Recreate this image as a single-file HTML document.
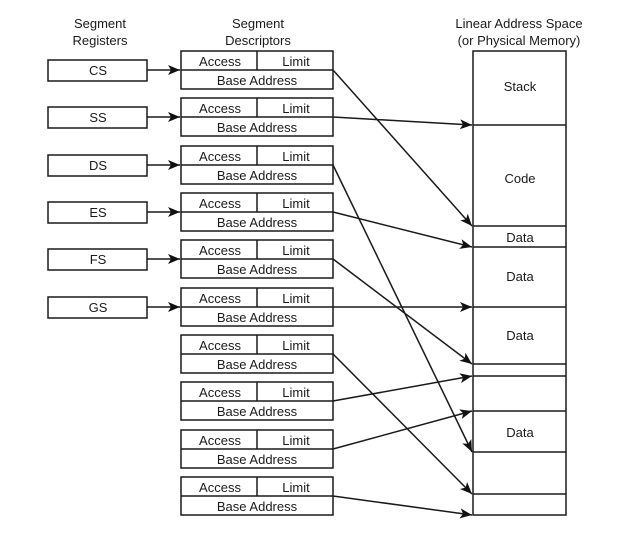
<!DOCTYPE html>
<html><head><meta charset="utf-8"><style>
html,body{margin:0;padding:0;background:#fff;}
svg{display:block;}
text{font-family:"Liberation Sans",Arial,sans-serif;font-size:13px;fill:#1a1a1a;text-anchor:middle;}
</style></head><body>
<svg width="631" height="533" viewBox="0 0 631 533" xmlns="http://www.w3.org/2000/svg">
<defs>
<marker id="a" viewBox="0 0 12 10" refX="12" refY="5" markerWidth="13" markerHeight="10" markerUnits="userSpaceOnUse" orient="auto">
<path d="M0,0 L12,5 L0,10 L3,5 z" fill="#111"/>
</marker>
</defs>
<g stroke="#1a1a1a" stroke-width="1.5" fill="none">
<text x="100" y="28" stroke="none">Segment</text>
<text x="100" y="45" stroke="none">Registers</text>
<text x="258" y="28" stroke="none">Segment</text>
<text x="258" y="45" stroke="none">Descriptors</text>
<text x="519" y="28" stroke="none">Linear Address Space</text>
<text x="519" y="45" stroke="none">(or Physical Memory)</text>

<rect x="473" y="51" width="93" height="464"/>
<line x1="473" y1="125" x2="566" y2="125"/>
<line x1="473" y1="226" x2="566" y2="226"/>
<line x1="473" y1="247" x2="566" y2="247"/>
<line x1="473" y1="307" x2="566" y2="307"/>
<line x1="473" y1="364" x2="566" y2="364"/>
<line x1="473" y1="376" x2="566" y2="376"/>
<line x1="473" y1="411" x2="566" y2="411"/>
<line x1="473" y1="452" x2="566" y2="452"/>
<line x1="473" y1="494" x2="566" y2="494"/>
<g stroke="none">
<text x="520" y="91">Stack</text>
<text x="520" y="183">Code</text>
<text x="520" y="242">Data</text>
<text x="520" y="281">Data</text>
<text x="520" y="340">Data</text>
<text x="520" y="437">Data</text>
</g>

<rect x="48" y="60" width="99" height="21"/><text x="98" y="75" stroke="none">CS</text>
<rect x="48" y="107" width="99" height="21"/><text x="98" y="122" stroke="none">SS</text>
<rect x="48" y="155" width="99" height="21"/><text x="98" y="170" stroke="none">DS</text>
<rect x="48" y="202" width="99" height="21"/><text x="98" y="217" stroke="none">ES</text>
<rect x="48" y="249" width="99" height="21"/><text x="98" y="264" stroke="none">FS</text>
<rect x="48" y="297" width="99" height="21"/><text x="98" y="312" stroke="none">GS</text>
<line x1="147" y1="70" x2="180" y2="70" marker-end="url(#a)"/>
<line x1="147" y1="117" x2="180" y2="117" marker-end="url(#a)"/>
<line x1="147" y1="165" x2="180" y2="165" marker-end="url(#a)"/>
<line x1="147" y1="212" x2="180" y2="212" marker-end="url(#a)"/>
<line x1="147" y1="259" x2="180" y2="259" marker-end="url(#a)"/>
<line x1="147" y1="307" x2="180" y2="307" marker-end="url(#a)"/>

<g id="d0">
<rect x="181" y="51" width="152" height="38"/>
<line x1="181" y1="70" x2="333" y2="70"/>
<line x1="257" y1="51" x2="257" y2="70"/>
<text x="220" y="66" stroke="none">Access</text>
<text x="296" y="66" stroke="none">Limit</text>
<text x="257" y="85" stroke="none">Base Address</text>
</g>
<use href="#d0" y="47"/>
<use href="#d0" y="95"/>
<use href="#d0" y="142"/>
<use href="#d0" y="189"/>
<use href="#d0" y="237"/>
<use href="#d0" y="284"/>
<use href="#d0" y="331"/>
<use href="#d0" y="379"/>
<use href="#d0" y="426"/>

<line x1="333" y1="70" x2="472" y2="226" marker-end="url(#a)"/>
<line x1="333" y1="117" x2="472" y2="125" marker-end="url(#a)"/>
<line x1="333" y1="165" x2="472" y2="452" marker-end="url(#a)"/>
<line x1="333" y1="212" x2="472" y2="247" marker-end="url(#a)"/>
<line x1="333" y1="259" x2="472" y2="364" marker-end="url(#a)"/>
<line x1="333" y1="307" x2="472" y2="307" marker-end="url(#a)"/>
<line x1="333" y1="354" x2="472" y2="494" marker-end="url(#a)"/>
<line x1="333" y1="401" x2="472" y2="376" marker-end="url(#a)"/>
<line x1="333" y1="449" x2="472" y2="411" marker-end="url(#a)"/>
<line x1="333" y1="496" x2="472" y2="515" marker-end="url(#a)"/>
</g>
</svg>
</body></html>
